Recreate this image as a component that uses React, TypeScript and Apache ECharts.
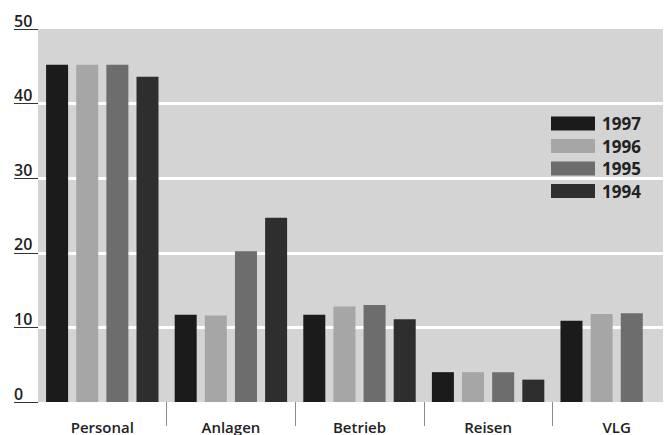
import React, { useEffect, useRef } from "react";
import * as echarts from "echarts";

const categories = ["Personal", "Anlagen", "Betrieb", "Reisen", "VLG"];
const years = ["1997", "1996", "1995", "1994"];
const values1997 = [45.2, 11.7, 11.7, 4.0, 10.9];
const values1996 = [45.2, 11.6, 12.8, 4.0, 11.8];
const values1995 = [45.2, 20.2, 13.0, 4.0, 11.9];
const values1994 = [43.6, 24.7, 11.1, 3.0, null];
const yTicks = [0, 10, 20, 30, 40, 50];
const colors = ["#1b1b1b", "#a6a6a6", "#6d6d6d", "#2e2e2e"];

const FONT = "'Open Sans', 'Noto Sans', sans-serif";

export default function App() {
  const ref = useRef<HTMLDivElement>(null);
  useEffect(() => {
    if (!ref.current) return;
    const chart = echarts.init(ref.current, null, { renderer: "svg" });
    const seriesData = [values1997, values1996, values1995, values1994];
    chart.setOption({
      animation: false,
      backgroundColor: "#ffffff",
      textStyle: { fontFamily: FONT },
      legend: {
        orient: "vertical",
        left: 551,
        top: 115,
        padding: 0,
        itemWidth: 44,
        itemHeight: 14,
        itemGap: 5.5,
        icon: "rect",
        selectedMode: false,
        data: years,
        textStyle: {
          fontFamily: FONT,
          fontSize: 17,
          fontWeight: "bold",
          color: "#222",
          lineHeight: 17,
          padding: [0, 0, 0, 2],
        },
      },
      grid: {
        left: 38,
        right: 19,
        top: 29,
        bottom: 33,
        show: true,
        backgroundColor: "#d4d4d4",
        borderWidth: 0,
      },
      xAxis: {
        type: "category",
        data: categories,
        boundaryGap: true,
        axisLine: { show: false },
        axisTick: {
          show: true,
          length: 24,
          interval: (index: number) => index !== 0,
          lineStyle: { color: "#8a8a8a", width: 1 },
        },
        axisLabel: {
          margin: 17,
          fontFamily: FONT,
          fontSize: 15,
          fontWeight: 600,
          color: "#222",
        },
      },
      yAxis: {
        type: "value",
        min: yTicks[0],
        max: yTicks[yTicks.length - 1],
        interval: 10,
        axisLine: { show: false },
        axisTick: {
          show: true,
          length: 24,
          lineStyle: { color: "#333", width: 1 },
        },
        axisLabel: {
          align: "left",
          verticalAlign: "bottom",
          margin: 24,
          fontFamily: FONT,
          fontSize: 16,
          fontWeight: 600,
          color: "#222",
          lineHeight: 17,
        },
        splitLine: {
          show: true,
          showMinLine: false,
          showMaxLine: false,
          lineStyle: { color: "#ffffff", width: 3 },
        },
      },
      series: years.map((y, i) => ({
        name: y,
        type: "bar",
        data: seriesData[i],
        barWidth: 22,
        barGap: "37%",
        itemStyle: { color: colors[i] },
      })),
      graphic: [
        {
          type: "rect",
          left: 663,
          top: 0,
          shape: { width: 40, height: 435 },
          style: { fill: "#ffffff" },
          z: 100,
        },
      ],
    });
    return () => chart.dispose();
  }, []);
  return (
    <div
      ref={ref}
      style={{ position: "fixed", left: 0, top: 0, width: 700, height: 435 }}
    />
  );
}
